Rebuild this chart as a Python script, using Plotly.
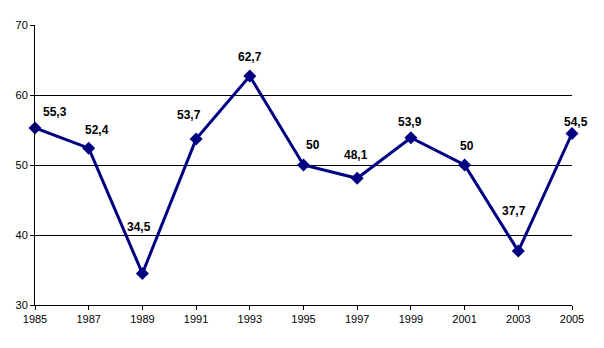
import plotly.graph_objects as go

years = [1985, 1987, 1989, 1991, 1993, 1995, 1997, 1999, 2001, 2003, 2005]
values = [55.3, 52.4, 34.5, 53.7, 62.7, 50, 48.1, 53.9, 50, 37.7, 54.5]
labels = [f"{v:g}".replace(".", ",") for v in values]
# pixel offsets of the data labels relative to their points
label_dx = [20, 8, -3, -7, 0, 9, -1, -1, 2, -4, 4]
label_dy = [16, 18, 47, 24, 19, 20, 23, 16, 19, 40, 12]

fig = go.Figure()
fig.add_trace(go.Scatter(
    x=years, y=values, mode="lines+markers",
    line=dict(color="#000080", width=3),
    marker=dict(symbol="diamond", size=10, color="#000080"),
    cliponaxis=False, showlegend=False,
))

for x, y, t, dx, dy in zip(years, values, labels, label_dx, label_dy):
    fig.add_annotation(x=x, y=y, text=f"<b>{t}</b>", showarrow=False,
                       xshift=dx, yshift=dy,
                       font=dict(family="Liberation Sans, Arial", size=12, color="black"))

fig.update_layout(
    width=604, height=348,
    margin=dict(l=35, r=32, t=25, b=43),
    paper_bgcolor="white", plot_bgcolor="white",
    font=dict(family="Liberation Sans, Arial", size=11, color="black"),
    xaxis=dict(range=[1985, 2005], tickvals=years, ticktext=[str(y) for y in years],
               showgrid=False, zeroline=False, showline=True, linecolor="black", linewidth=1,
               ticks="outside", ticklen=4, tickcolor="black", tickfont=dict(size=11)),
    yaxis=dict(range=[30, 70], tickvals=[30, 40, 50, 60, 70], showgrid=True,
               gridcolor="black", gridwidth=1, zeroline=False,
               showline=True, linecolor="black", linewidth=1,
               ticks="outside", ticklen=4, tickcolor="black", tickfont=dict(size=11)),
)

fig.write_html("out.html")
